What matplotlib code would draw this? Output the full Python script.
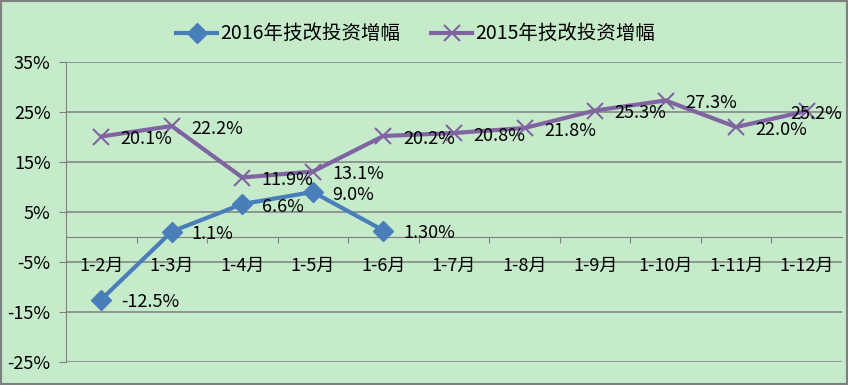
import matplotlib
matplotlib.use("Agg")
import matplotlib.pyplot as plt
from matplotlib.patches import Rectangle
from matplotlib.ticker import FixedLocator, FuncFormatter

plt.rcParams['font.family'] = ['Noto Sans CJK SC', 'DejaVu Sans']

# data
months = ["1-2月", "1-3月", "1-4月", "1-5月", "1-6月", "1-7月",
          "1-8月", "1-9月", "1-10月", "1-11月", "1-12月"]
growth_2016 = [-12.5, 1.1, 6.6, 9.0, 1.3]
labels_2016 = ["-12.5%", "1.1%", "6.6%", "9.0%", "1.30%"]
growth_2015 = [20.1, 22.2, 11.9, 13.1, 20.2, 20.8, 21.8, 25.3, 27.3, 22.0, 25.2]
labels_2015 = ["20.1%", "22.2%", "11.9%", "13.1%", "20.2%", "20.8%",
               "21.8%", "25.3%", "27.3%", "22.0%", "25.2%"]

bg = "#C6EBCB"
grid_c = "#7F7F7F"
blue = "#4A7EBB"
purple = "#8064A2"

W, H = 848, 385
fig = plt.figure(figsize=(W / 100, H / 100), dpi=100, facecolor=bg)
# plot area in pixels: left 66, bottom 23, width 776, height 300
ax = fig.add_axes([66 / W, 23 / H, 776 / W, 300 / H])
ax.set_facecolor(bg)

x15 = range(len(growth_2015))
x16 = range(len(growth_2016))
ax.plot(x16, growth_2016, color=blue, lw=3, marker="D", ms=10,
        label="2016年技改投资增幅", zorder=4)
ax.plot(x15, growth_2015, color=purple, lw=3, marker="x", ms=11, mew=1.5,
        label="2015年技改投资增幅", zorder=3)

ax.set_xlim(-0.5, len(months) - 0.5)
ax.set_ylim(-25, 35)

# y axis
ax.set_yticks(range(-25, 36, 10))
ax.yaxis.set_major_formatter(FuncFormatter(lambda v, p: f"{v:.0f}%"))
ax.grid(axis="y", color=grid_c, lw=1.1)
ax.tick_params(axis="y", length=5, color=grid_c, labelsize=13, pad=6)

# x axis on zero line, ticks between categories, labels under categories
ax.spines["bottom"].set_position(("data", 0))
ax.spines["bottom"].set_color(grid_c)
ax.spines["left"].set_color(grid_c)
ax.spines["top"].set_visible(False)
ax.spines["right"].set_visible(False)
ax.xaxis.set_major_locator(FixedLocator([i + 0.5 for i in range(len(months) - 1)]))
ax.xaxis.set_major_formatter(FuncFormatter(lambda v, p: ""))
ax.xaxis.set_minor_locator(FixedLocator(list(range(len(months)))))
ax.set_xticklabels(months, minor=True)
ax.tick_params(axis="x", which="major", direction="out", length=4, color=grid_c)
ax.tick_params(axis="x", which="minor", length=0, labelsize=13, pad=14)
# gridlines under the category labels
ax.yaxis.set_zorder(0.5)
ax.xaxis.set_zorder(1.5)

# data labels
for i, (v, t) in enumerate(zip(growth_2016, labels_2016)):
    ax.annotate(t, (i, v), xytext=(14, -2), textcoords="offset points",
                ha="left", va="center", fontsize=13, zorder=5)
for i, (v, t) in enumerate(zip(growth_2015, labels_2015)):
    dx = 14 if i < len(growth_2015) - 1 else -12
    ax.annotate(t, (i, v), xytext=(dx, -2), textcoords="offset points",
                ha="left", va="center", fontsize=13, zorder=5)

leg = fig.legend(loc="center", bbox_to_anchor=(0.49, 0.912), ncol=2,
                 frameon=False, fontsize=14, handlelength=2.1,
                 handletextpad=0.15, columnspacing=1.6)

fig.patches.append(Rectangle((0, 0), 1, 1, transform=fig.transFigure,
                             fill=False, edgecolor="#808080", lw=3))

fig.savefig("out.png", dpi=100, facecolor=bg)
